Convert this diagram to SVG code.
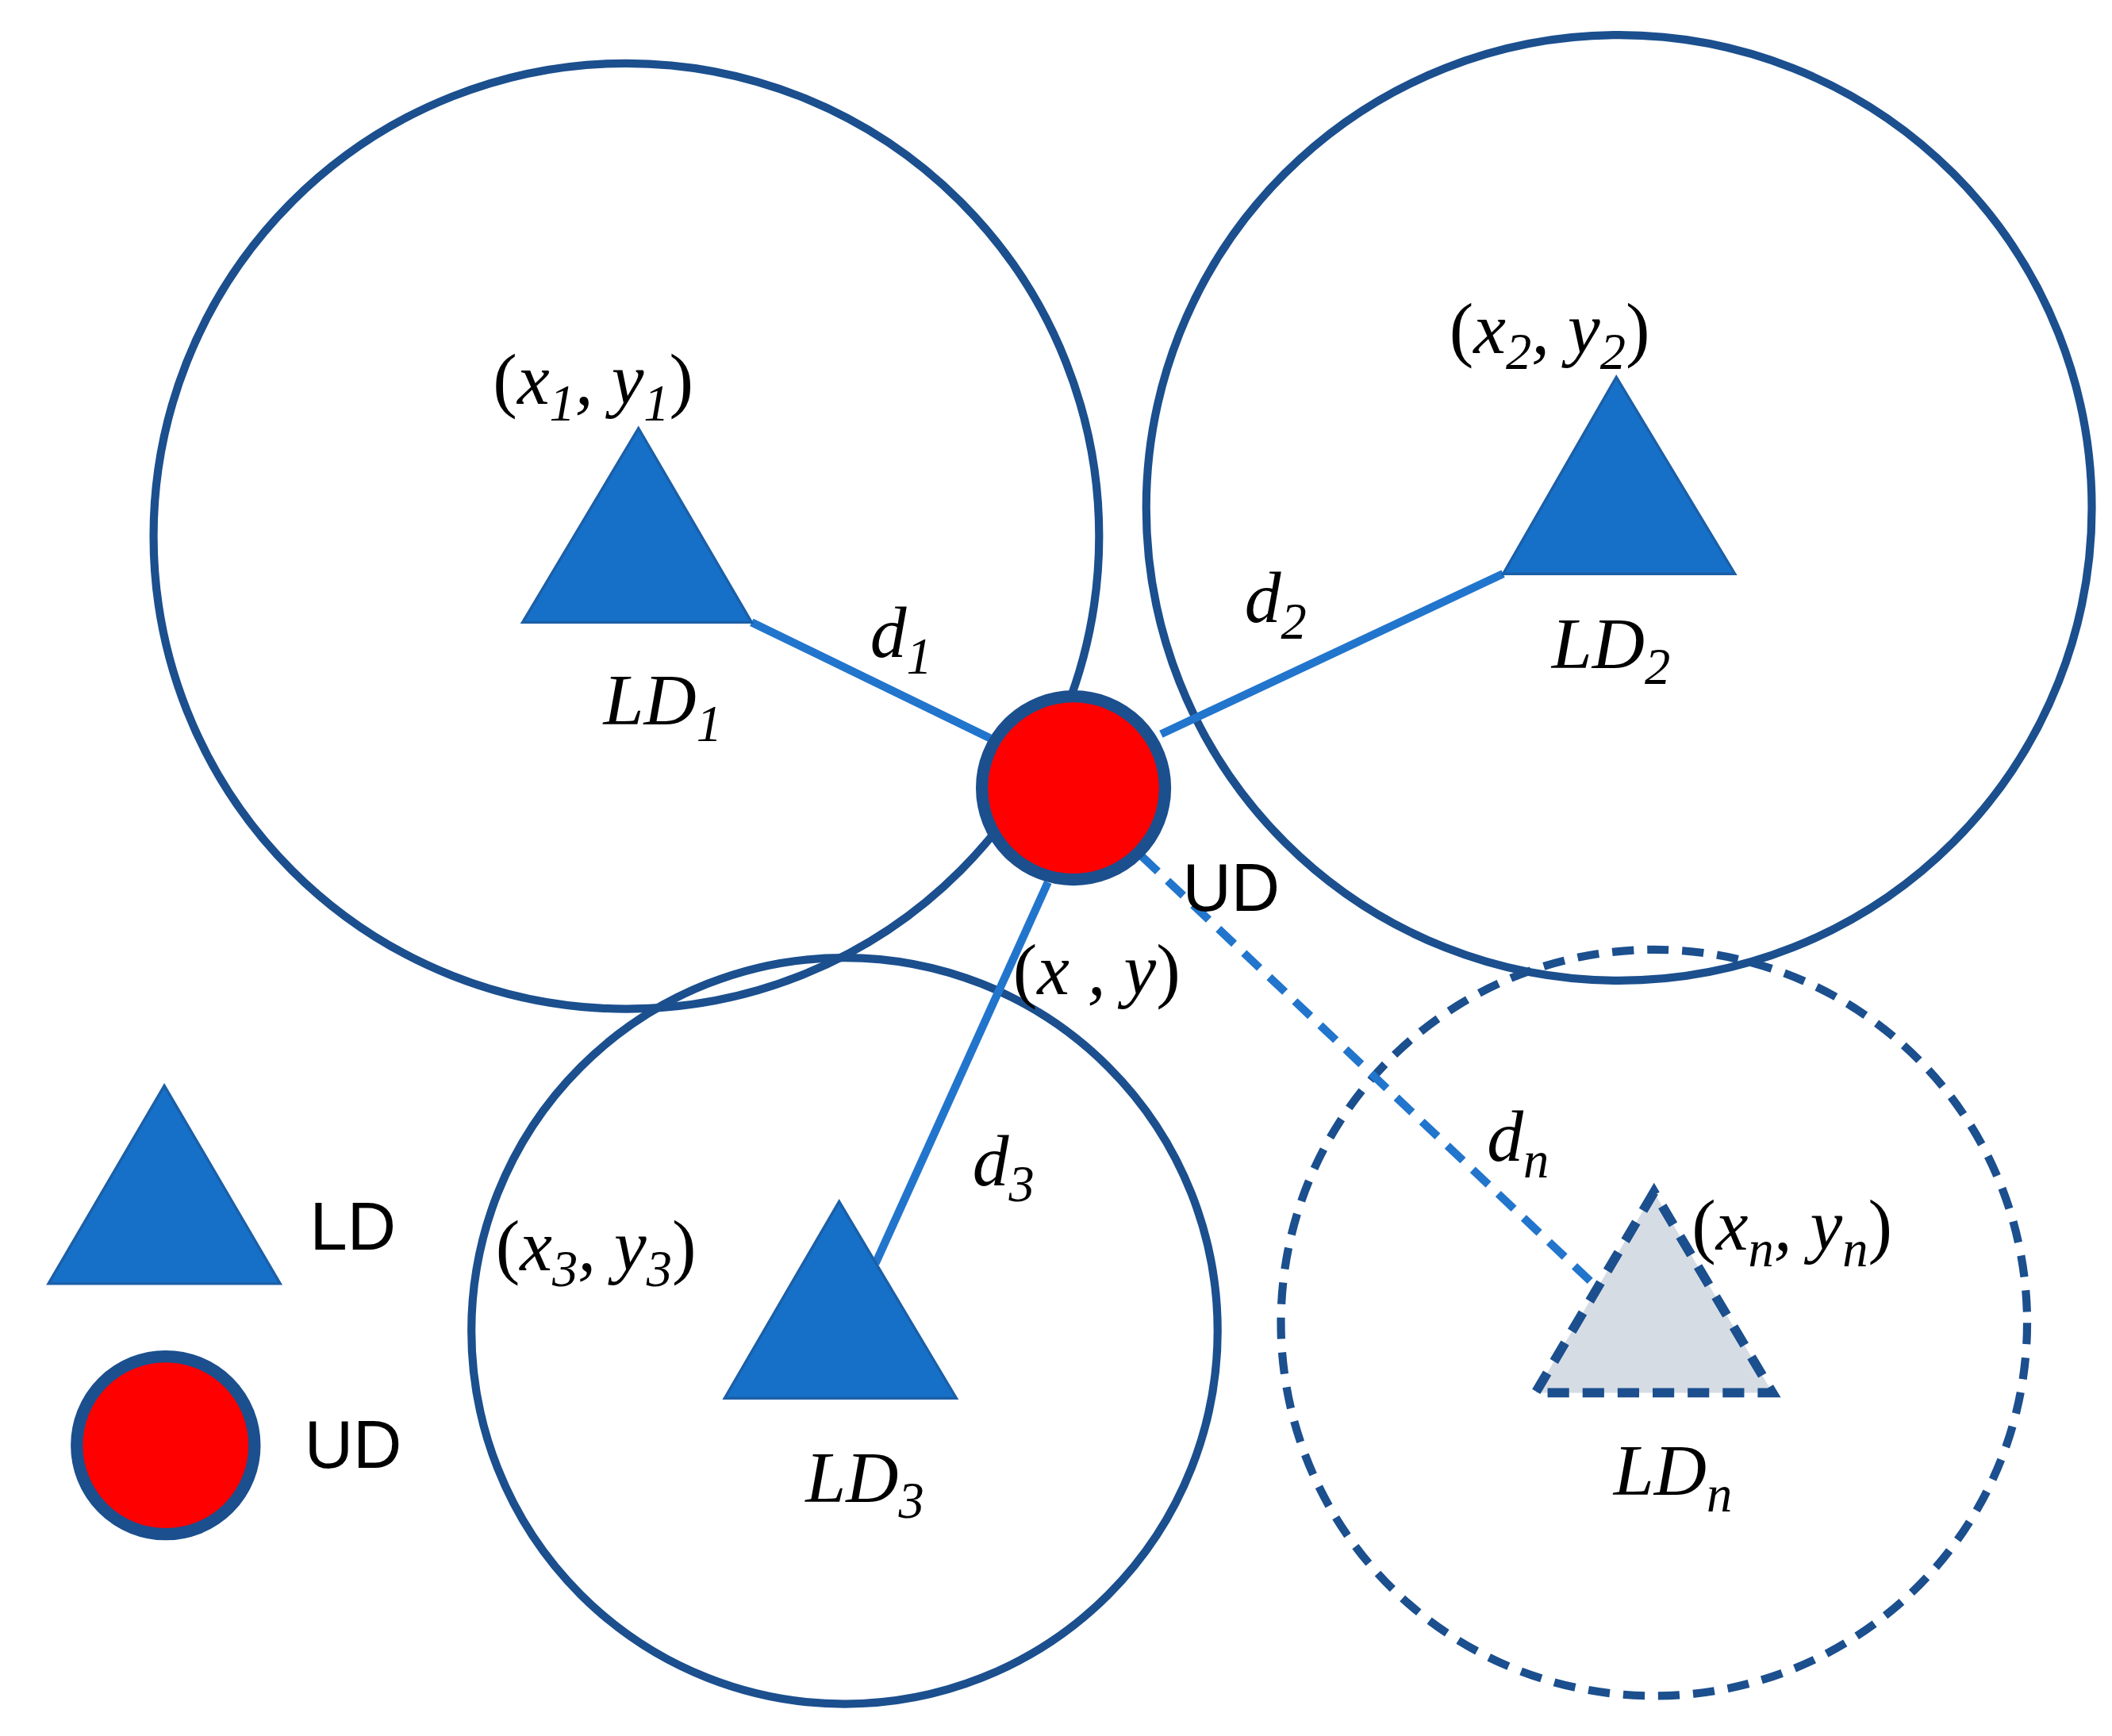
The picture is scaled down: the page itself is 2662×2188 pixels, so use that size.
<svg xmlns="http://www.w3.org/2000/svg" width="2662" height="2188" viewBox="0 0 2662 2188">
<style>
.rng{fill:none;stroke:#1b4f8e;stroke-width:6}
.dash{stroke-dasharray:16 10}
.tri{fill:#1670c8;stroke:#1b5fa8;stroke-width:2}
.ln{stroke:#2275cc;stroke-width:6;fill:none}
.m{font-family:"Liberation Serif",serif;font-style:italic;font-size:54px;fill:#000}
.p{font-style:normal}
.s{font-size:38px}
.t{font-family:"Liberation Sans",sans-serif;font-size:50px;fill:#000}
</style>
<rect width="2662" height="2188" fill="#fff"/>
<g transform="scale(1.6977)">
<g id="ranges">
<circle class="rng" cx="465" cy="398" r="351"/>
<circle class="rng" cx="1202" cy="377" r="351"/>
<circle class="rng" cx="627" cy="988" r="277"/>
<circle class="rng dash" cx="1228" cy="982" r="277"/>
</g>
<g id="connectors">
<line class="ln" x1="558" y1="462" x2="735" y2="548"/>
<line class="ln" x1="862" y1="545" x2="1116" y2="426"/>
<line class="ln" x1="778" y1="655" x2="650" y2="938"/>
<line class="ln dash" x1="848" y1="636" x2="1188" y2="958"/>
</g>
<g id="LD1"><polygon class="tri" points="474,318 388,462 558,462"/>
<text class="m" x="366" y="300"><tspan class="p">(</tspan>x<tspan class="s" dy="12">1</tspan><tspan dy="-12">, y</tspan><tspan class="s" dy="12">1</tspan><tspan class="p" dy="-12">)</tspan></text>
<text class="m" x="448" y="538">LD<tspan class="s" dy="12">1</tspan></text></g>
<g id="LD2"><polygon class="tri" points="1200,280 1116,426 1288,426"/>
<text class="m" x="1076" y="262"><tspan class="p">(</tspan>x<tspan class="s" dy="12">2</tspan><tspan dy="-12">, y</tspan><tspan class="s" dy="12">2</tspan><tspan class="p" dy="-12">)</tspan></text>
<text class="m" x="1152" y="496">LD<tspan class="s" dy="12">2</tspan></text></g>
<g id="LD3"><polygon class="tri" points="623,892 538,1038 710,1038"/>
<text class="m" x="368" y="943"><tspan class="p">(</tspan>x<tspan class="s" dy="12">3</tspan><tspan dy="-12">, y</tspan><tspan class="s" dy="12">3</tspan><tspan class="p" dy="-12">)</tspan></text>
<text class="m" x="598" y="1115">LD<tspan class="s" dy="12">3</tspan></text></g>
<g id="LDn"><polygon class="tri dash" points="1228,885 1140,1034 1316,1034" style="fill:#d6dce4;stroke:#1b4f8e;stroke-width:7"/>
<text class="m" x="1256" y="928"><tspan class="p">(</tspan>x<tspan class="s" dy="12">n</tspan><tspan dy="-12">, y</tspan><tspan class="s" dy="12">n</tspan><tspan class="p" dy="-12">)</tspan></text>
<text class="m" x="1198" y="1110">LD<tspan class="s" dy="12">n</tspan></text></g>
<g id="UD"><circle cx="797" cy="585" r="68" fill="#ff0000" stroke="#1b4f8e" stroke-width="9"/>
<text class="t" x="878" y="676">UD</text>
<text class="m" x="752" y="738"><tspan class="p">(</tspan>x , y<tspan class="p">)</tspan></text></g>
<g id="labels">
<text class="m" x="646" y="488">d<tspan class="s" dy="12">1</tspan></text>
<text class="m" x="924" y="462">d<tspan class="s" dy="12">2</tspan></text>
<text class="m" x="722" y="880">d<tspan class="s" dy="12">3</tspan></text>
<text class="m" x="1104" y="862">d<tspan class="s" dy="12">n</tspan></text>
</g>
<g id="legend">
<polygon class="tri" points="122,806 36,953 208,953"/>
<text class="t" x="230" y="928">LD</text>
<circle cx="123" cy="1073" r="66" fill="#ff0000" stroke="#1b4f8e" stroke-width="9"/>
<text class="t" x="226" y="1090">UD</text>
</g>
</g>
</svg>
